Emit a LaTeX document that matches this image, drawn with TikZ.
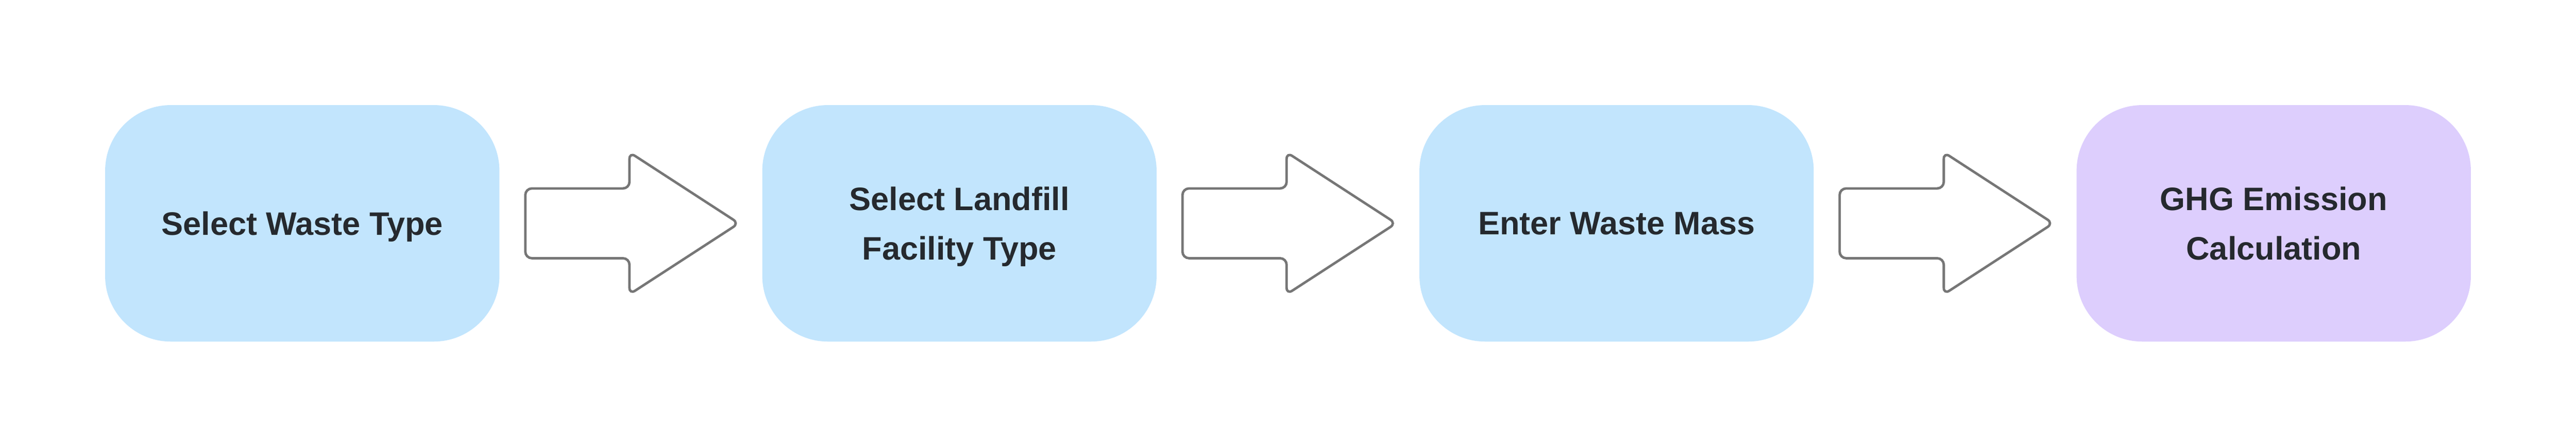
\documentclass[tikz,border=0pt]{standalone}
\usepackage{fontspec}
\setmainfont{Liberation Sans}
\usetikzlibrary{positioning}
\usetikzlibrary{shapes.arrows}

\definecolor{stepblue}{HTML}{C2E5FD}
\definecolor{steppurple}{HTML}{DDCEFD}
\definecolor{arrowgray}{HTML}{767676}
\definecolor{textdark}{HTML}{25292E}

\tikzset{
  stepbox/.style={rounded corners=16mm, minimum width=96mm, minimum height=57.6mm,
    fill=stepblue, text=textdark, align=center, inner sep=0pt, outer sep=0pt,
    text depth=0pt, font=\fontsize{22.5pt}{34pt}\selectfont\bfseries},
  flowarrow/.style={single arrow, draw=arrowgray, line width=0.6mm, fill=white,
    rounded corners=1.6mm, minimum height=52mm, single arrow head extend=8.8mm,
    single arrow tip angle=66, inner xsep=0pt, inner ysep=8.2mm, outer sep=0pt}
}

\begin{document}
\begin{tikzpicture}
        \useasboundingbox (0,0) rectangle (627.2mm,108.8mm);

        \node[stepbox] (wastetype) at (73.6mm,54.4mm) {Select Waste Type};
        \node[stepbox, right=64mm of wastetype] (facility) {Select Landfill\\Facility Type};
        \node[stepbox, right=64mm of facility] (wastemass) {Enter Waste Mass};
        \node[stepbox, fill=steppurple, right=64mm of wastemass] (ghgcalc) {GHG Emission\\Calculation};

        \node[flowarrow, right=6.3mm of wastetype] (arrow1) {};
        \node[flowarrow, right=6.3mm of facility] (arrow2) {};
        \node[flowarrow, right=6.3mm of wastemass] (arrow3) {};
      \end{tikzpicture}
\end{document}
